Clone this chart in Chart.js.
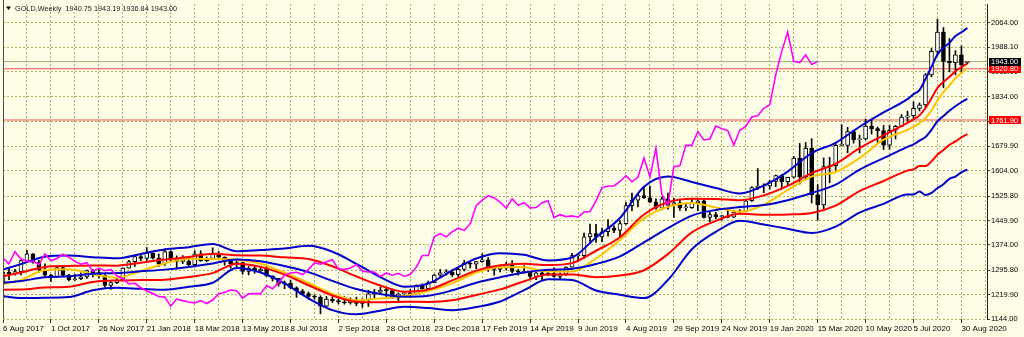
<!DOCTYPE html>
<html><head><meta charset="utf-8">
<script src="https://cdn.jsdelivr.net/npm/chart.js@4.4.0/dist/chart.umd.min.js"></script>
<style>html,body{margin:0;padding:0;background:#FFFFE8;}canvas{display:block;}</style>
</head><body>
<canvas id="c" width="1024" height="337"></canvas>
<script>
// ---- data (weekly bars, index 0 = week of 6 Aug 2017) ----
const dateLabels = ['6 Aug 2017','1 Oct 2017','26 Nov 2017','21 Jan 2018','18 Mar 2018','13 May 2018','8 Jul 2018','2 Sep 2018','28 Oct 2018','23 Dec 2018','17 Feb 2019','14 Apr 2019','9 Jun 2019','4 Aug 2019','29 Sep 2019','24 Nov 2019','19 Jan 2020','15 Mar 2020','10 May 2020','5 Jul 2020','30 Aug 2020'];
const labelWeeks = [0,8,16,24,32,40,48,56,64,72,80,88,96,104,112,120,128,136,144,152,160];
const priceTicks = [1144,1219.9,1295.8,1374,1449.9,1525.8,1604,1679.9,1757.9,1834,1912,1988.1,2064];

const opens = [1258,1289,1285,1291,1325,1346,1320,1297,1280,1275,
 1304,1280,1266,1269,1275,1294,1288,1280,1248,1257,
 1265,1302,1322,1338,1332,1349,1333,1315,1353,1330,
 1323,1323,1313,1346,1325,1332,1345,1336,1323,1314,
 1319,1292,1302,1294,1298,1278,1270,1253,1255,1241,
 1231,1223,1214,1212,1184,1206,1201,1197,1194,1201,
 1192,1203,1222,1227,1234,1232,1209,1222,1223,1222,
 1248,1238,1257,1280,1287,1289,1282,1298,1318,1314,
 1322,1328,1299,1298,1302,1313,1292,1290,1290,1276,
 1287,1280,1286,1276,1283,1305,1341,1341,1399,1409,
 1399,1415,1426,1419,1440,1496,1513,1527,1520,1507,
 1488,1517,1497,1505,1489,1490,1505,1511,1459,1468,
 1462,1464,1460,1476,1478,1511,1552,1557,1557,1571,
 1589,1570,1584,1644,1585,1674,1530,1498,1617,1620,
 1683,1683,1726,1700,1703,1743,1735,1729,1684,1730,
 1742,1771,1775,1798,1809,1902,1975,2035,1944,1940,
 1964,1940.75];
const highs = [1291,1300,1298,1326,1357,1347,1326,1315,1283,1306,
 1306,1283,1283,1287,1296,1298,1299,1282,1260,1270,
 1303,1326,1340,1344,1366,1350,1346,1362,1356,1340,
 1341,1329,1356,1356,1337,1365,1354,1337,1325,1326,
 1320,1307,1307,1308,1310,1278,1270,1262,1265,1244,
 1236,1228,1219,1216,1214,1214,1207,1213,1210,1212,
 1207,1233,1236,1243,1243,1237,1225,1230,1236,1250,
 1253,1262,1283,1298,1297,1298,1303,1326,1320,1323,
 1346,1335,1301,1311,1320,1325,1298,1310,1292,1290,
 1289,1290,1303,1287,1306,1348,1348,1411,1439,1438,
 1426,1453,1433,1449,1506,1535,1531,1555,1557,1517,
 1523,1535,1519,1516,1500,1518,1517,1515,1475,1475,
 1466,1485,1482,1484,1515,1555,1611,1564,1575,1591,
 1592,1584,1649,1689,1692,1704,1561,1644,1646,1690,
 1747,1739,1730,1715,1765,1765,1740,1745,1745,1745,
 1779,1789,1818,1815,1906,1984,2075,2049,2015,1977,
 1992,1943.19];
const lows = [1256,1266,1280,1281,1322,1317,1289,1276,1261,1272,
 1276,1262,1264,1266,1270,1275,1271,1243,1236,1254,
 1265,1302,1307,1325,1325,1330,1307,1310,1322,1303,
 1316,1309,1306,1323,1322,1330,1335,1311,1302,1304,
 1283,1281,1286,1290,1276,1262,1246,1238,1238,1211,
 1220,1205,1205,1160,1182,1195,1191,1190,1190,1185,
 1180,1183,1210,1222,1211,1209,1196,1219,1211,1221,
 1237,1236,1257,1275,1280,1276,1276,1293,1303,1300,
 1320,1292,1280,1290,1296,1287,1280,1286,1270,1266,
 1266,1279,1274,1266,1279,1305,1322,1331,1383,1382,
 1384,1401,1412,1400,1438,1480,1492,1518,1506,1485,
 1483,1485,1459,1481,1480,1487,1480,1457,1446,1455,
 1451,1458,1459,1472,1478,1509,1546,1536,1547,1555,
 1547,1561,1581,1563,1576,1504,1451,1482,1567,1606,
 1681,1660,1690,1660,1700,1718,1692,1670,1671,1703,
 1742,1757,1763,1790,1801,1896,1964,1862,1911,1902,
 1906,1936.84];
const closes = [1289,1285,1291,1325,1346,1320,1297,1280,1275,1304,
 1280,1266,1269,1275,1294,1288,1280,1248,1257,1265,
 1302,1322,1338,1332,1349,1333,1315,1353,1330,1323,
 1323,1313,1346,1325,1332,1345,1336,1323,1314,1319,
 1292,1302,1294,1298,1278,1270,1253,1255,1241,1231,
 1223,1214,1212,1184,1206,1201,1197,1194,1201,1192,
 1203,1222,1227,1234,1232,1209,1222,1223,1222,1248,
 1238,1257,1280,1287,1289,1282,1298,1318,1314,1322,
 1328,1299,1298,1302,1313,1292,1290,1290,1276,1287,
 1280,1286,1276,1283,1305,1341,1341,1399,1409,1399,
 1415,1426,1419,1440,1496,1513,1527,1520,1507,1488,
 1517,1497,1505,1489,1490,1505,1511,1459,1468,1462,
 1464,1460,1476,1478,1511,1552,1557,1557,1571,1589,
 1570,1584,1644,1585,1674,1530,1498,1617,1620,1683,
 1683,1726,1700,1703,1743,1735,1729,1684,1730,1742,
 1771,1775,1798,1809,1902,1975,2035,1944,1940,1964,
 1934,1943];

// indicator lines, read at these week indices
const bandWeeks = [0,3,7,11,15,19,23,27,31,35,39,43,47,51,55,59,63,67,71,75,79,83,87,91,95,99,103,107,111,115,119,123,127,131,135,139,143,147,151,152,153,154,155,156,157,158,159,160,161];
const bbUpper2 = [1297.6,1314.5,1337.4,1340.8,1336.1,1332.7,1346.1,1359.7,1367.1,1376.8,1354.7,1358.3,1362.6,1371.2,1352.9,1315.3,1273.9,1244.4,1254.4,1294.6,1331.8,1348.4,1343.2,1326.0,1334.9,1397.1,1457.6,1554.9,1586.7,1569.5,1550.9,1533.8,1558.1,1601.7,1659.1,1691.0,1740.9,1785.4,1826.6,1842.1,1854.9,1889.1,1926.8,1965.4,1986.2,2001.4,2022.4,2034.4,2047.6];
const bbUpper1 = [1276.8,1288.1,1305.5,1308.6,1310.4,1309.7,1319.0,1328.5,1336.3,1346.7,1341.7,1340.8,1335.6,1330.4,1307.6,1276.1,1247.9,1228.9,1235.3,1263.8,1294.1,1310.9,1315.8,1311.3,1317.4,1355.9,1398.0,1468.4,1506.3,1517.3,1516.8,1512.7,1527.9,1557.3,1597.1,1626.0,1674.3,1714.4,1752.6,1764.2,1776.2,1799.0,1829.0,1861.7,1880.2,1895.9,1913.4,1925.7,1937.7];
const bbMid = [1256.0,1261.7,1273.6,1276.4,1284.7,1286.7,1291.9,1297.3,1305.5,1316.6,1328.7,1323.3,1308.6,1289.6,1262.3,1236.9,1221.9,1213.4,1216.2,1233.0,1256.4,1273.4,1288.4,1296.6,1299.9,1314.7,1338.4,1381.9,1425.9,1465.1,1482.7,1491.6,1497.7,1512.9,1535.1,1561.0,1607.7,1643.4,1678.6,1686.3,1697.5,1708.9,1731.2,1758.0,1774.4,1790.4,1804.4,1817.0,1827.8];
const bbLower1 = [1235.2,1235.3,1241.7,1244.2,1259.0,1263.7,1264.8,1266.1,1274.7,1286.5,1315.7,1305.8,1281.6,1248.8,1217.0,1197.7,1195.9,1197.9,1197.1,1202.2,1218.7,1235.9,1261.0,1281.9,1282.4,1273.5,1278.8,1295.4,1345.5,1412.9,1448.6,1470.5,1467.5,1468.5,1473.1,1496.0,1541.1,1572.4,1604.6,1608.4,1618.8,1618.8,1633.4,1654.3,1668.5,1684.8,1695.4,1708.2,1717.9];
const bbLower2 = [1214.4,1208.9,1209.8,1212.0,1233.3,1240.7,1237.7,1234.9,1243.9,1256.4,1302.7,1288.3,1254.6,1208.0,1171.7,1158.5,1169.9,1182.4,1178.0,1171.4,1181.0,1198.4,1233.6,1267.2,1264.9,1232.3,1219.2,1208.9,1265.1,1360.7,1414.5,1449.4,1437.3,1424.1,1411.1,1431.0,1474.5,1501.4,1530.6,1530.5,1540.1,1528.7,1535.6,1550.6,1562.6,1579.3,1586.4,1599.5,1608.0];
const fastMA = [1252.5,1265.0,1296.0,1298.4,1282.8,1272.2,1292.6,1316.6,1330.9,1330.5,1327.6,1315.5,1287.5,1255.7,1222.0,1202.4,1207.7,1216.5,1231.2,1254.8,1288.5,1305.0,1304.8,1291.4,1291.4,1331.9,1389.4,1456.4,1492.4,1504.5,1490.3,1477.3,1498.5,1544.5,1586.1,1600.5,1643.4,1700.6,1731.2,1741.0,1751.6,1767.5,1791.5,1822.1,1848.1,1869.1,1891.3,1907.6,1924.4];
const lagShift = 25;           // lagging close line (plotted 25 weeks back)
const levelLines = [1920.8, 1761.9];
const bidPrice = 1943.00;
const titleText = 'GOLD,Weekly  1940.75 1943.19 1936.84 1943.00';

// ---- build datasets ----
const FONT = '"Liberation Sans", Arial, sans-serif';
const X_MIN = 0, X_MAX = 164.27, Y_MIN = 1144, Y_MAX = 2122;
const idx = closes.map((_, i) => i);
const wickData = idx.map(i => ({x: i, y: [lows[i], highs[i]]}));
const bodyData = idx.map(i => ({x: i, y: [opens[i], closes[i]]}));
const bodyFill = idx.map(i => closes[i] >= opens[i] ? '#FFFFFF' : '#000000');
const pts = arr => bandWeeks.map((w, k) => ({x: w, y: arr[k]}));
const lagPts = closes.slice(lagShift).map((c, k) => ({x: k, y: c}));
const hline = v => [{x: X_MIN, y: v}, {x: X_MAX, y: v}];

const xGrid = [];
for (let w = 0; w <= 164; w += 4) xGrid.push(w);

const lineBase = {type: 'line', pointRadius: 0, borderWidth: 2, fill: false, cubicInterpolationMode: 'monotone'};
const BLUE = '#0000CC', RED = '#FF0000', YEL = '#FFC400', MAG = '#FF00FF';

const datasets = [
  {type: 'line', data: hline(levelLines[0]), borderColor: '#FF5050', borderWidth: 1, pointRadius: 0, order: 9},
  {type: 'line', data: hline(levelLines[1]), borderColor: '#FF5050', borderWidth: 1, pointRadius: 0, order: 9},
  {type: 'line', data: hline(bidPrice), borderColor: '#A8A878', borderWidth: 1, pointRadius: 0, order: 9},
  {type: 'bar', data: wickData, backgroundColor: '#000', borderWidth: 0, barThickness: 1, grouped: false, order: 8},
  {type: 'bar', data: bodyData, backgroundColor: bodyFill, borderColor: '#000', borderWidth: 1, borderSkipped: false, barThickness: 4, minBarLength: 1, grouped: false, order: 7},
  Object.assign({}, lineBase, {data: pts(fastMA), borderColor: YEL, order: 5}),
  Object.assign({}, lineBase, {data: pts(bbUpper1), borderColor: RED, order: 4}),
  Object.assign({}, lineBase, {data: pts(bbLower1), borderColor: RED, order: 4}),
  Object.assign({}, lineBase, {data: pts(bbUpper2), borderColor: BLUE, order: 3}),
  Object.assign({}, lineBase, {data: pts(bbMid), borderColor: BLUE, order: 3}),
  Object.assign({}, lineBase, {data: pts(bbLower2), borderColor: BLUE, order: 3}),
  {type: 'line', data: lagPts, borderColor: MAG, borderWidth: 1.6, pointRadius: 0, tension: 0, order: 1}
];

const bgPlugin = {
  id: 'bg',
  beforeDraw(chart) {
    const c = chart.ctx; c.save(); c.fillStyle = '#FFFFE8'; c.fillRect(0, 0, chart.width, chart.height); c.restore();
  }
};
const overlay = {
  id: 'overlay',
  afterDraw(chart) {
    const {ctx, chartArea: a, scales: {y}} = chart;
    ctx.save();
    ctx.strokeStyle = '#505050'; ctx.lineWidth = 1;
    ctx.beginPath(); ctx.moveTo(a.left + 0.5, 0); ctx.lineTo(a.left + 0.5, a.bottom); ctx.stroke();
    // title
    ctx.fillStyle = '#000';
    ctx.beginPath(); ctx.moveTo(6, 6.5); ctx.lineTo(11, 6.5); ctx.lineTo(8.5, 10); ctx.closePath(); ctx.fill();
    ctx.font = '7.3px ' + FONT; ctx.textBaseline = 'middle'; ctx.textAlign = 'left';
    ctx.fillStyle = '#202020';
    ctx.fillText(titleText, 15, 8.5);
    // price boxes on the right axis
    const boxes = [[levelLines[1], '#FF0000'], [levelLines[0], '#FF0000'], [bidPrice, '#000000']];
    ctx.font = '7.5px ' + FONT;
    boxes.forEach(([v, col]) => {
      const py = y.getPixelForValue(v);
      ctx.fillStyle = col;
      ctx.fillRect(a.right + 2, Math.round(py - 4), 32, 8);
      ctx.fillStyle = '#FFFFFF';
      ctx.fillText(v.toFixed(2), a.right + 4, py + 0.5);
    });
    ctx.restore();
  }
};

new Chart(document.getElementById('c'), {
  type: 'bar',
  data: {datasets},
  plugins: [bgPlugin, overlay],
  options: {
    responsive: false, animation: false, devicePixelRatio: 1, events: [],
    layout: {padding: {left: 3, top: 4, right: 0, bottom: 0}},
    plugins: {legend: {display: false}, tooltip: {enabled: false}, title: {display: false}},
    scales: {
      x: {
        type: 'linear', min: X_MIN, max: X_MAX, offset: false, position: 'bottom',
        grid: {offset: false, color: '#AEAE62', lineWidth: 1, drawTicks: true, tickLength: 4,
               tickColor: ctx => (ctx.tick && labelWeeks.includes(ctx.tick.value)) ? '#333' : 'rgba(0,0,0,0)'},
        border: {display: false, dash: [2, 2]},
        afterBuildTicks: s => { s.ticks = xGrid.map(v => ({value: v})); },
        afterFit: s => { s.height = 18; s.paddingLeft = 0; s.paddingRight = 0; },
        ticks: {
          autoSkip: false, maxRotation: 0, minRotation: 0, align: 'start', padding: 1,
          color: '#000', font: {family: FONT, size: 8},
          callback: v => { const k = labelWeeks.indexOf(v); return k >= 0 ? dateLabels[k] : ''; }
        }
      },
      y: {
        type: 'linear', min: Y_MIN, max: Y_MAX, position: 'right', beginAtZero: false,
        grid: {color: '#AEAE62', lineWidth: 1, drawTicks: true, tickLength: 3, tickColor: '#333'},
        border: {display: true, color: '#202020', width: 1, dash: [2, 2]},
        afterBuildTicks: s => { s.ticks = priceTicks.map(v => ({value: v})); },
        afterFit: s => { s.width = 37; s.paddingTop = 0; s.paddingBottom = 0; },
        ticks: {autoSkip: false, padding: 1, color: '#000', font: {family: FONT, size: 7.5},
                callback: v => v.toFixed(2)}
      }
    }
  }
});
</script>
</body></html>
